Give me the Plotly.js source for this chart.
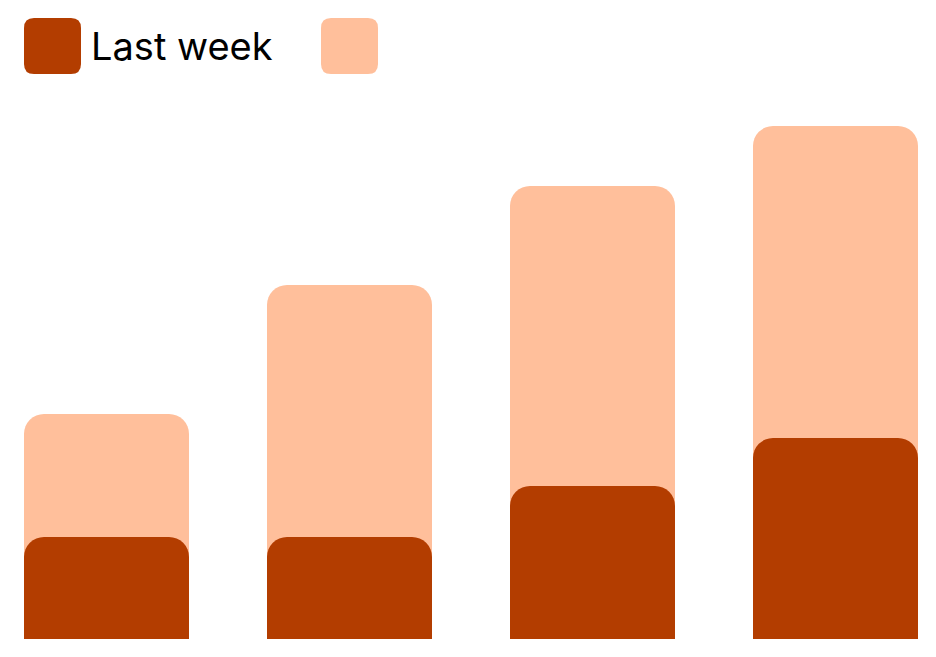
<!DOCTYPE html>
<html>
<head>
<meta charset="utf-8">
<script src="https://cdn.plot.ly/plotly-3.0.1.min.js"></script>
<style>html,body{margin:0;padding:0;background:#fff;}#chart{width:936px;height:657px;}</style>
</head>
<body>
<div id="chart"></div>
<script>
var categories = ['Week 1', 'Week 2', 'Week 3', 'Week 4'];
var lastWeek = [10.2, 10.2, 15.3, 20.1];
var thisWeek = [22.5, 35.4, 45.3, 51.3];
var legendLabels = ['Last week', ''];

var darkColor = '#b33d00';
var lightColor = '#ffbf9b';
var gap = 0.321;
var bw = 1 - gap;
var yMax = 60.7;

var traces = [
  {type: 'bar', x: categories, y: thisWeek, name: legendLabels[1], width: bw, offset: -bw / 2,
   xaxis: 'x', yaxis: 'y', marker: {color: lightColor}, hoverinfo: 'y'},
  {type: 'bar', x: categories, y: lastWeek, name: legendLabels[0], width: bw, offset: -bw / 2,
   xaxis: 'x2', yaxis: 'y2', marker: {color: darkColor}, hoverinfo: 'y'}
];

function rr(w, h, r) {
  return 'M' + r + ',0 H' + (w - r) + ' Q' + w + ',0 ' + w + ',' + r +
         ' V' + (h - r) + ' Q' + w + ',' + h + ' ' + (w - r) + ',' + h +
         ' H' + r + ' Q0,' + h + ' 0,' + (h - r) + ' V' + r + ' Q0,0 ' + r + ',0 Z';
}

var plotW = 936 - 24 - 18, plotH = 657 - 32 - 18;
function px2x(px) { return (px - 24) / plotW; }
function px2y(py) { return (639 - py) / plotH; }

var xRange = [-bw / 2, categories.length - 1 + bw / 2];

var layout = {
  width: 936, height: 657,
  margin: {l: 24, r: 18, t: 32, b: 18},
  paper_bgcolor: '#fff', plot_bgcolor: '#fff',
  barmode: 'overlay',
  bargap: gap,
  barcornerradius: 20,
  showlegend: false,
  xaxis: {visible: false, range: xRange},
  yaxis: {visible: false, range: [0, yMax]},
  xaxis2: {visible: false, range: xRange, overlaying: 'x'},
  yaxis2: {visible: false, range: [0, yMax], overlaying: 'y'},
  shapes: [
    {type: 'path', xref: 'paper', yref: 'paper', xsizemode: 'pixel', ysizemode: 'pixel',
     xanchor: px2x(24), yanchor: px2y(74), path: rr(57, 56, 10), fillcolor: darkColor, line: {width: 0}},
    {type: 'path', xref: 'paper', yref: 'paper', xsizemode: 'pixel', ysizemode: 'pixel',
     xanchor: px2x(321), yanchor: px2y(74), path: rr(57, 56, 10), fillcolor: lightColor, line: {width: 0}}
  ],
  annotations: [
    {xref: 'paper', yref: 'paper', x: px2x(89), y: px2y(46), xanchor: 'left', yanchor: 'middle',
     text: legendLabels[0], showarrow: false, font: {family: 'Inter, sans-serif', size: 38, color: '#000'}}
  ]
};

Plotly.newPlot('chart', traces, layout, {displayModeBar: false, staticPlot: true});
</script>
</body>
</html>
